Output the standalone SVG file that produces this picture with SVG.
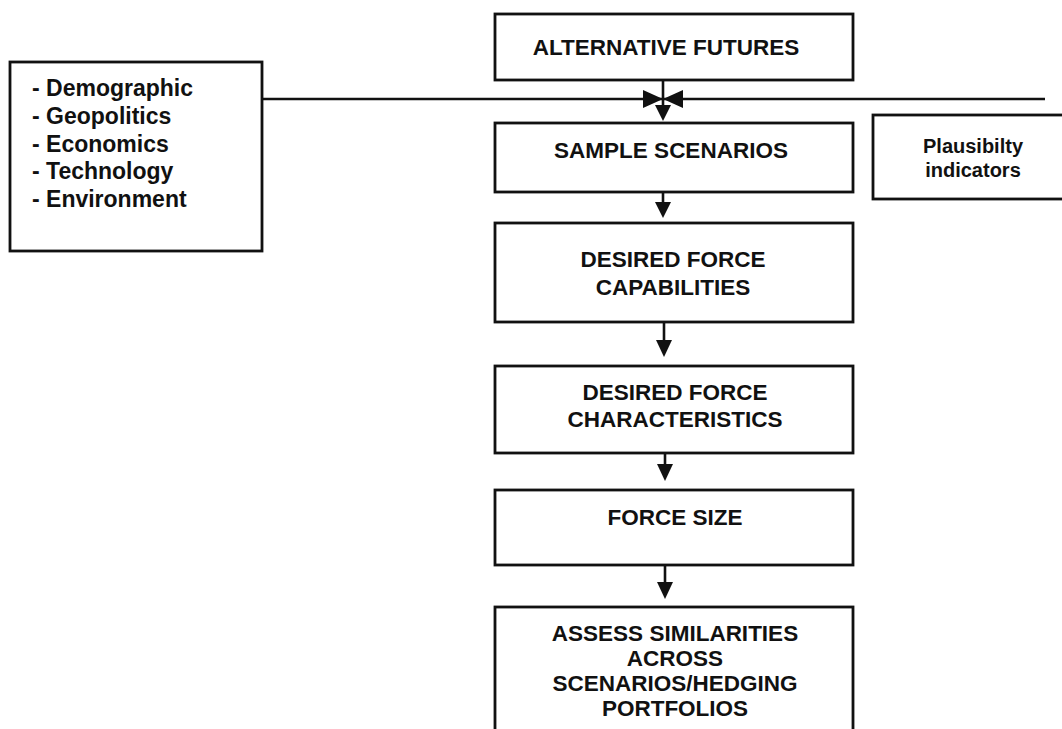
<svg xmlns="http://www.w3.org/2000/svg" width="1062" height="729" viewBox="0 0 1062 729">
  <defs>
    <style>
      .box { fill: #ffffff; stroke: #111111; stroke-width: 2.8; }
      .line { fill: none; stroke: #111111; stroke-width: 2.6; }
      .head { fill: #111111; stroke: none; }
      .t { font-family: "Liberation Sans", Arial, Helvetica, sans-serif; font-weight: bold; fill: #111111; }
      .c { font-size: 22.5px; text-anchor: middle; }
      .l { font-size: 23px; }
      .p { font-size: 20px; text-anchor: middle; }
    </style>
  </defs>
  <rect width="1062" height="729" fill="#ffffff"/>

  <!-- connectors -->
  <g id="connectors">
    <!-- drivers feed line running across the column -->
    <line class="line" x1="262" y1="99" x2="1045" y2="99"/>
    <!-- bow-tie junction under the first box -->
    <line class="line" x1="663" y1="80" x2="663" y2="108"/>
    <polygon class="head" points="643,90 663,99 643,108"/>
    <polygon class="head" points="683,90 663,99 683,108"/>
    <polygon class="head" points="655,105 671,105 663,121"/>
    <!-- column arrows -->
    <line class="line" x1="663" y1="192" x2="663" y2="205"/>
    <polygon class="head" points="655,202 671,202 663,218"/>
    <line class="line" x1="664" y1="322" x2="664" y2="342"/>
    <polygon class="head" points="656,340 672,340 664,357"/>
    <line class="line" x1="665" y1="453" x2="665" y2="466"/>
    <polygon class="head" points="657,464 673,464 665,481"/>
    <line class="line" x1="665" y1="565" x2="665" y2="584"/>
    <polygon class="head" points="657,582 673,582 665,599"/>
  </g>

  <g id="drivers">
    <rect class="box" x="10" y="62" width="252" height="189"/>
    <text class="t l" x="32" y="96">- Demographic</text>
    <text class="t l" x="32" y="124">- Geopolitics</text>
    <text class="t l" x="32" y="152">- Economics</text>
    <text class="t l" x="32" y="179">- Technology</text>
    <text class="t l" x="32" y="207">- Environment</text>
  </g>

  <g id="alternative-futures">
    <rect class="box" x="495" y="14" width="358" height="66"/>
    <text class="t c" x="666" y="55">ALTERNATIVE FUTURES</text>
  </g>

  <g id="sample-scenarios">
    <rect class="box" x="495" y="123" width="358" height="69"/>
    <text class="t c" x="671" y="158">SAMPLE SCENARIOS</text>
  </g>

  <g id="plausibility">
    <rect class="box" x="873" y="115" width="200" height="84"/>
    <text class="t p" x="973" y="153">Plausibilty</text>
    <text class="t p" x="973" y="177">indicators</text>
  </g>

  <g id="force-capabilities">
    <rect class="box" x="495" y="223" width="358" height="99"/>
    <text class="t c" x="673" y="267">DESIRED FORCE</text>
    <text class="t c" x="673" y="295">CAPABILITIES</text>
  </g>

  <g id="force-characteristics">
    <rect class="box" x="495" y="366" width="358" height="87"/>
    <text class="t c" x="675" y="400">DESIRED FORCE</text>
    <text class="t c" x="675" y="427">CHARACTERISTICS</text>
  </g>

  <g id="force-size">
    <rect class="box" x="495" y="490" width="358" height="75"/>
    <text class="t c" x="675" y="525">FORCE SIZE</text>
  </g>

  <g id="assess-similarities">
    <rect class="box" x="495" y="607" width="358" height="130"/>
    <text class="t c" x="675" y="641">ASSESS SIMILARITIES</text>
    <text class="t c" x="675" y="666">ACROSS</text>
    <text class="t c" x="675" y="691">SCENARIOS/HEDGING</text>
    <text class="t c" x="675" y="716">PORTFOLIOS</text>
  </g>
</svg>
